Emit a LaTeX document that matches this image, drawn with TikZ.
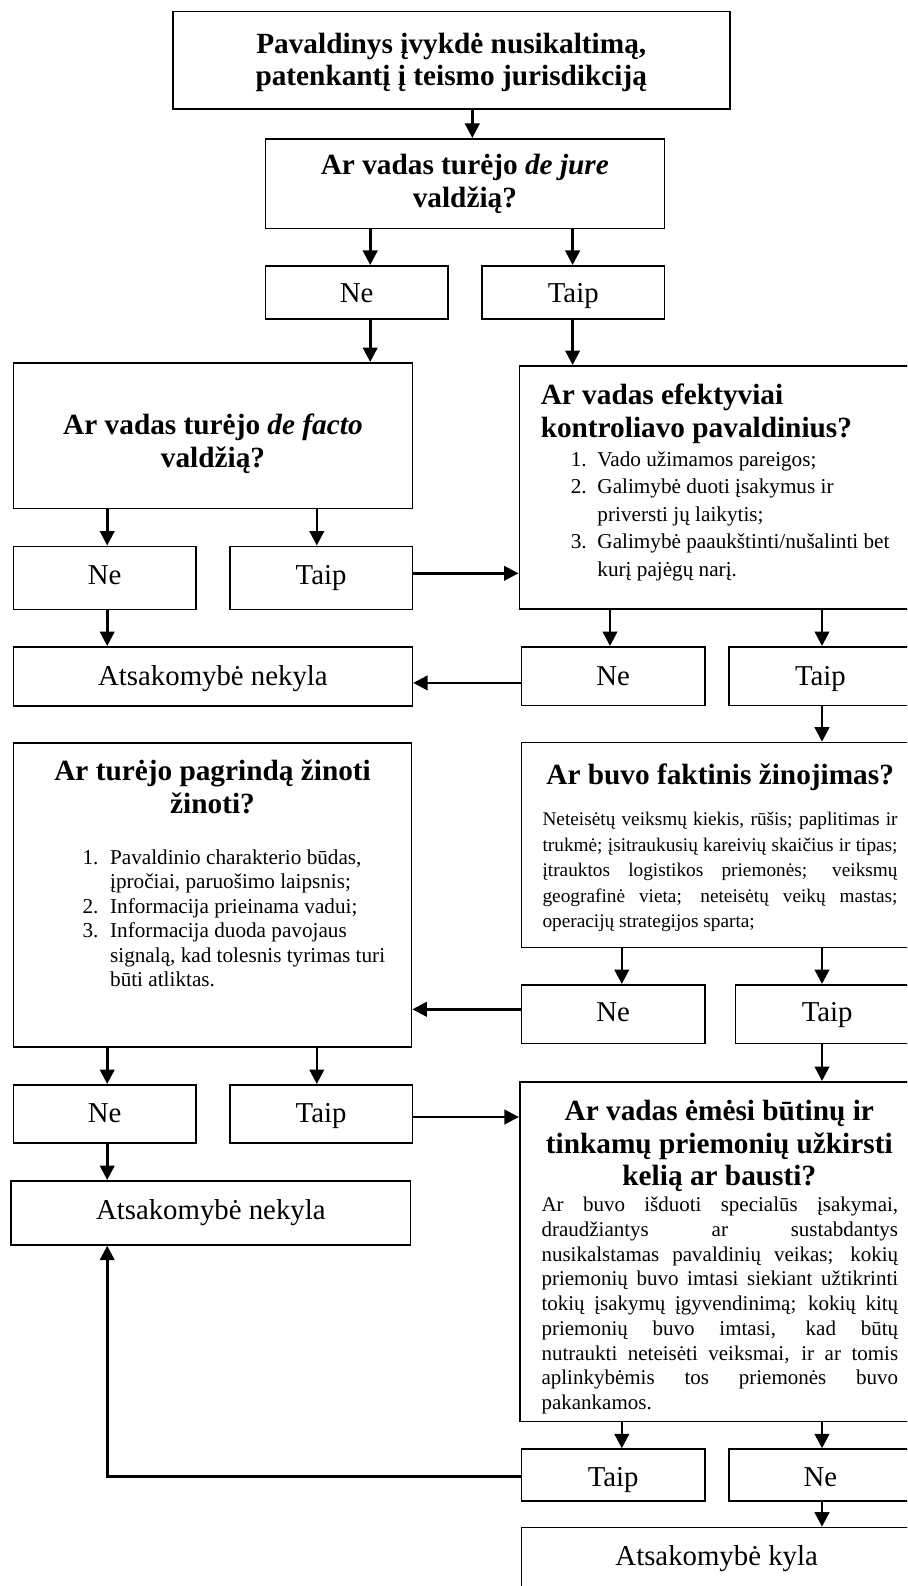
\documentclass[tikz,border=0pt]{standalone}
\usepackage{fontspec}
\setmainfont{Liberation Serif}
\usetikzlibrary{arrows.meta}
\newcommand{\pbx}[3]{\parbox[b][#2][t]{#1}{\lineskiplimit=-\maxdimen\parskip=0pt\parindent=0pt\relax#3}}
\newcommand{\hdfont}[1]{\fontsize{29.3pt}{#1}\selectfont\bfseries}
\newcommand{\ynfont}{\fontsize{28.8pt}{32pt}\selectfont}
\newcommand{\ynb}[4]{\pbx{#1}{#2}{\centering\ynfont\rule{0pt}{#3}#4\par}}
\newcommand{\num}[2]{\makebox[#1][l]{#2}}
\tikzset{
  bx/.style={draw, line width=1.7pt, inner sep=0pt, anchor=north west, rectangle},
  arr/.style={line width=2.6pt, -{Triangle[length=14.5pt,width=14.5pt]}},
}
\begin{document}
\begin{tikzpicture}[x=1pt,y=-1pt]
\useasboundingbox (0,0) rectangle (907,1586);
\clip (0,0) rectangle (907,1586);
% column and row guides
\coordinate (cT) at (472.3,0);
\coordinate (cA) at (370.2,0);
\coordinate (cB) at (572.6,0);
\coordinate (cC) at (107.2,0);
\coordinate (cD) at (316.8,0);
\coordinate (cE) at (610,0);
\coordinate (cF) at (822,0);
\coordinate (cG) at (621.8,0);
\coordinate (r1) at (0,573.3);
\coordinate (r2) at (0,682.9);
\coordinate (r3) at (0,1009.3);
\coordinate (r4) at (0,1117);
\coordinate (r5) at (0,1476.7);

% boxes
\node[bx] (title) at (172,10.7) {\pbx{556.8pt}{97.6pt}{\centering\hdfont{32pt}\rule{0pt}{41.5pt}Pavaldinys įvykdė nusikaltimą,\\patenkantį į teismo jurisdikciją\par}};

\node[bx] (dejure) at (264.5,138) {\pbx{399pt}{89.7pt}{\centering\hdfont{33.4pt}\rule{0pt}{35.3pt}Ar vadas turėjo \textit{de jure}\\valdžią?\par}};

\node[bx] (ne1) at (264.5,265) {\ynb{182.5pt}{53.3pt}{37pt}{Ne}};
\node[bx] (taip1) at (481.3,265) {\ynb{182.2pt}{53.3pt}{37pt}{Taip}};

\node[bx] (defacto) at (12.7,362) {\pbx{398.8pt}{145.5pt}{\centering\hdfont{32.5pt}\rule{0pt}{72pt}Ar vadas turėjo \textit{de facto}\\valdžią?\par}};

\node[bx] (efekt) at (518.5,365) {\pbx{399.5pt}{243.2pt}{\raggedright
{\hdfont{33.7pt}\rule{0pt}{38.3pt}\hspace*{21.4pt}Ar vadas efektyviai\\
\hspace*{21.4pt}kontroliavo pavaldinius?\par}
\vspace{0.8pt}
{\fontsize{21.2pt}{27.5pt}\selectfont
\hspace*{51.4pt}\num{26.7pt}{1.}Vado užimamos pareigos;\\
\hspace*{51.4pt}\num{26.7pt}{2.}Galimybė duoti įsakymus ir\\
\hspace*{78.1pt}priversti jų laikytis;\\
\hspace*{51.4pt}\num{26.7pt}{3.}Galimybė paaukštinti/nušalinti bet\\
\hspace*{78.1pt}kurį pajėgų narį.\par}}};

\node[bx] (ne2) at (12.7,545.5) {\ynb{182.3pt}{63pt}{37.8pt}{Ne}};
\node[bx] (taip2) at (228.8,545.5) {\ynb{182.9pt}{63pt}{37.8pt}{Taip}};

\node[bx] (nekyla1) at (12.7,646) {\ynb{398.8pt}{58.8pt}{38.8pt}{Atsakomybė nekyla}};
\node[bx] (ne3) at (520.6,646) {\ynb{183.4pt}{58.5pt}{38.5pt}{Ne}};
\node[bx] (taip3) at (727.9,646) {\ynb{183.4pt}{58.5pt}{38.5pt}{Taip}};

\node[bx] (zinoti) at (12.7,742.3) {\pbx{398pt}{303.7pt}{%
{\centering\hdfont{32.7pt}\rule{0pt}{37.7pt}Ar turėjo pagrindą žinoti\\žinoti?\par}
\vspace{26.1pt}
{\raggedright\fontsize{21.2pt}{24.5pt}\selectfont
\hspace*{69pt}\num{27.6pt}{1.}Pavaldinio charakterio būdas,\\
\hspace*{96.6pt}įpročiai, paruošimo laipsnis;\\
\hspace*{69pt}\num{27.6pt}{2.}Informacija prieinama vadui;\\
\hspace*{69pt}\num{27.6pt}{3.}Informacija duoda pavojaus\\
\hspace*{96.6pt}signalą, kad tolesnis tyrimas turi\\
\hspace*{96.6pt}būti atliktas.\par}}};

\node[bx] (faktinis) at (520.6,741.7) {\pbx{397.4pt}{205pt}{%
{\centering\hdfont{33pt}\rule{0pt}{41.6pt}Ar buvo faktinis žinojimas?\par}
\vspace{16.3pt}
{\raggedright\fontsize{19.3pt}{25.4pt}\selectfont
\hspace*{21.1pt}\makebox[355pt][s]{Neteisėtų veiksmų kiekis, rūšis; paplitimas ir}\\
\hspace*{21.1pt}\makebox[355pt][s]{trukmė; įsitraukusių kareivių skaičius ir tipas;}\\
\hspace*{21.1pt}\makebox[355pt][s]{įtrauktos logistikos priemonės; veiksmų}\\
\hspace*{21.1pt}\makebox[355pt][s]{geografinė vieta; neteisėtų veikų mastas;}\\
\hspace*{21.1pt}operacijų strategijos sparta;\par}}};

\node[bx] (ne4) at (520.6,984) {\ynb{183.4pt}{58.7pt}{36.7pt}{Ne}};
\node[bx] (taip4) at (734.6,984) {\ynb{183.4pt}{58.7pt}{36.7pt}{Taip}};

\node[bx] (ne5) at (12.7,1084) {\ynb{182.3pt}{58.3pt}{37.7pt}{Ne}};
\node[bx] (taip5) at (228.8,1084) {\ynb{182.9pt}{58.3pt}{37.7pt}{Taip}};

\node[bx] (priem) at (518.9,1081) {\pbx{399.1pt}{339.5pt}{%
{\centering\hdfont{32.5pt}\rule{0pt}{39pt}Ar vadas ėmėsi būtinų ir\\tinkamų priemonių užkirsti\\kelią ar bausti?\par}
\vspace{1.3pt}
{\raggedright\fontsize{21pt}{24.7pt}\selectfont
\hspace*{21.8pt}\makebox[356.6pt][s]{Ar buvo išduoti specialūs įsakymai,}\\
\hspace*{21.8pt}\makebox[356.6pt][s]{draudžiantys ar sustabdantys}\\
\hspace*{21.8pt}\makebox[356.6pt][s]{nusikalstamas pavaldinių veikas; kokių}\\
\hspace*{21.8pt}\makebox[356.6pt][s]{priemonių buvo imtasi siekiant užtikrinti}\\
\hspace*{21.8pt}\makebox[356.6pt][s]{tokių įsakymų įgyvendinimą; kokių kitų}\\
\hspace*{21.8pt}\makebox[356.6pt][s]{priemonių buvo imtasi, kad būtų}\\
\hspace*{21.8pt}\makebox[356.6pt][s]{nutraukti neteisėti veiksmai, ir ar tomis}\\
\hspace*{21.8pt}\makebox[356.6pt][s]{aplinkybėmis tos priemonės buvo}\\
\hspace*{21.8pt}pakankamos.\par}}};

\node[bx] (nekyla2) at (10.4,1180) {\ynb{399.1pt}{64pt}{38.3pt}{Atsakomybė nekyla}};

\node[bx] (taip6) at (520.6,1448.3) {\ynb{183.4pt}{51.7pt}{37.7pt}{Taip}};
\node[bx] (ne6) at (727.9,1448.3) {\ynb{183.4pt}{51.7pt}{37.7pt}{Ne}};

\node[bx] (kyla) at (520.6,1526.7) {\ynb{390.4pt}{90pt}{38.3pt}{Atsakomybė kyla}};

% connectors
\draw[arr] (title.south -| cT) -- (dejure.north -| cT);
\draw[arr] (dejure.south -| cA) -- (ne1.north -| cA);
\draw[arr] (dejure.south -| cB) -- (taip1.north -| cB);
\draw[arr] (ne1.south -| cA) -- (defacto.north -| cA);
\draw[arr] (taip1.south -| cB) -- (efekt.north -| cB);
\draw[arr] (defacto.south -| cC) -- (ne2.north -| cC);
\draw[arr] (defacto.south -| cD) -- (taip2.north -| cD);
\draw[arr] (taip2.east |- r1) -- (efekt.west |- r1);
\draw[arr] (ne2.south -| cC) -- (nekyla1.north -| cC);
\draw[arr] (efekt.south -| cE) -- (ne3.north -| cE);
\draw[arr] (efekt.south -| cF) -- (taip3.north -| cF);
\draw[arr] (ne3.west |- r2) -- (nekyla1.east |- r2);
\draw[arr] (taip3.south -| cF) -- (faktinis.north -| cF);
\draw[arr] (faktinis.south -| cG) -- (ne4.north -| cG);
\draw[arr] (faktinis.south -| cF) -- (taip4.north -| cF);
\draw[arr] (ne4.west |- r3) -- (zinoti.east |- r3);
\draw[arr] (zinoti.south -| cC) -- (ne5.north -| cC);
\draw[arr] (zinoti.south -| cD) -- (taip5.north -| cD);
\draw[arr] (taip5.east |- r4) -- (priem.west |- r4);
\draw[arr] (taip4.south -| cF) -- (priem.north -| cF);
\draw[arr] (ne5.south -| cC) -- (nekyla2.north -| cC);
\draw[arr] (priem.south -| cG) -- (taip6.north -| cG);
\draw[arr] (priem.south -| cF) -- (ne6.north -| cF);
\draw[arr] (taip6.west |- r5) -- (r5 -| cC) -- (nekyla2.south -| cC);
\draw[arr] (ne6.south -| cF) -- (kyla.north -| cF);
\end{tikzpicture}
\end{document}
